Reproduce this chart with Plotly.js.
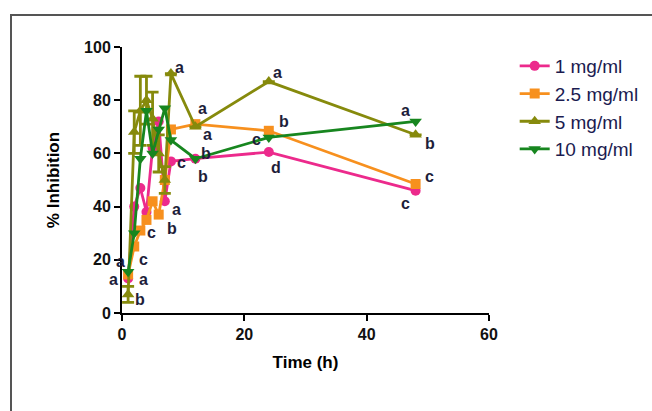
<!DOCTYPE html>
<html><head><meta charset="utf-8">
<script src="https://cdn.plot.ly/plotly-3.0.1.min.js"></script>
<style>
html,body{margin:0;padding:0;background:#fff;}
#wrap{position:relative;width:652px;height:411px;overflow:hidden;}
#frame{position:absolute;left:10px;top:14px;width:700px;height:500px;border:2px solid #555;box-sizing:border-box;}
#chart{position:absolute;left:0;top:0;width:652px;height:411px;}
</style></head>
<body><div id="wrap"><div id="frame"></div><div id="chart"></div></div>
<script>
const times = [1, 2, 3, 4, 5, 6, 7, 8, 12, 24, 48];
const seriesNames = ["1 mg/ml", "2.5 mg/ml", "5 mg/ml", "10 mg/ml"];
const inh1 = [13, 40, 47, 38, 62, 72, 42, 57, 58, 60.5, 46];
const inh25 = [14.5, 25, 31, 35, 42, 37, 50, 69, 71, 68.5, 48.5];
const inh5 = [7, 68, 76, 80, 73, 60, 50, 90, 70, 87, 67];
const err5 = [3, 8, 13, 9, 10, 7, 5, 0, 0, 0, 0];
const inh10 = [15.5, 30, 58, 76, 60, 69, 77, 65, 58, 66, 72];
// letters: [seriesIndex, pointIndex, letter, xshift, yshift]
const letters = [
  [3, 10, "a", -10, 11], [2, 10, "b", 14, -9], [1, 10, "c", 14, 7], [0, 10, "c", -10, -13],
  [2, 9, "a", 9, 9], [1, 9, "b", 15, 9], [3, 9, "c", -12, -2], [0, 9, "d", 7, -15],
  [1, 8, "a", 7, 16], [2, 8, "a", 12, -8], [3, 8, "b", 11, 5], [0, 8, "b", 8, -18],
  [2, 7, "a", 9, 6], [0, 7, "c", 11, -1],
  [0, 6, "a", 12, -8], [1, 5, "b", 13, -14],
  [1, 3, "c", 5, -13], [1, 1, "c", 9, -13],
  [3, 0, "a", -8, 10], [1, 0, "a", -15, -5], [0, 0, "a", 15, -1], [2, 0, "b", 12, -5]
];
const colors = ["#ec2a8c", "#f7901e", "#868a0c", "#17861f"];
const symbols = ["circle", "square", "triangle-up", "triangle-down"];
const ys = [inh1, inh25, inh5, inh10];
const traces = ys.map((y, i) => {
  const t = {
    x: times, y: y, name: seriesNames[i], type: "scatter", mode: "lines+markers",
    line: {color: colors[i], width: 2.8},
    marker: {color: colors[i], symbol: symbols[i], size: i >= 2 ? 11 : 10}
  };
  if (i === 2) t.error_y = {type: "data", array: err5, visible: true, color: colors[i], thickness: 2.8, width: 6};
  return t;
});
const annotations = letters.map(([s, p, txt, dx, dy]) => ({
  x: times[p], y: ys[s][p], xref: "x", yref: "y", text: "<b>" + txt + "</b>", showarrow: false,
  xshift: dx, yshift: dy, font: {family: "Liberation Sans, Arial", size: 16, color: "#1e1e3a"}
}));
const tickFont = {family: "Liberation Sans, Arial", size: 16, color: "#111", weight: "bold"};
const layout = {
  width: 652, height: 411,
  margin: {l: 122, r: 163, t: 47, b: 98, pad: 0, autoexpand: false},
  paper_bgcolor: "rgba(0,0,0,0)", plot_bgcolor: "rgba(0,0,0,0)",
  showlegend: true,
  legend: {x: 1.07, y: 1.0, xanchor: "left", yanchor: "top", bgcolor: "rgba(0,0,0,0)",
    font: {family: "Liberation Sans, Arial", size: 19, color: "#1b1b50"}, tracegroupgap: 0, itemwidth: 30},
  xaxis: {range: [0, 60], tickvals: [0, 20, 40, 60], showgrid: false, zeroline: false,
    showline: true, linecolor: "#000", linewidth: 2, ticks: "outside", ticklen: 6, tickwidth: 2, tickcolor: "#000",
    tickfont: tickFont,
    title: {text: "<b>Time (h)</b>", font: {family: "Liberation Sans, Arial", size: 17, color: "#000"}, standoff: 14}},
  yaxis: {range: [0, 100], tickvals: [0, 20, 40, 60, 80, 100], showgrid: false, zeroline: false,
    showline: true, linecolor: "#000", linewidth: 2, ticks: "outside", ticklen: 6, tickwidth: 2, tickcolor: "#000",
    tickfont: tickFont,
    title: {text: "<b>% Inhibition</b>", font: {family: "Liberation Sans, Arial", size: 17, color: "#000"}, standoff: 20}},
  annotations: annotations
};
Plotly.newPlot("chart", traces, layout, {displayModeBar: false, staticPlot: true});
</script></body></html>
